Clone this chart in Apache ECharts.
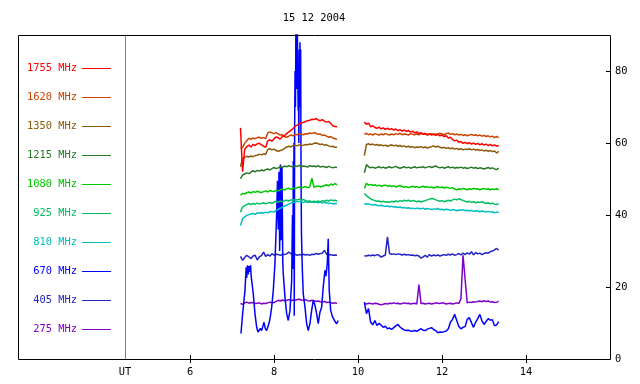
<!DOCTYPE html>
<html><head><meta charset="utf-8">
<script src="https://cdn.jsdelivr.net/npm/echarts@6/dist/echarts.min.js"></script>
<style>html,body{margin:0;padding:0;background:#fff}#c{width:640px;height:384px}</style>
</head><body><div id="c"></div>
<script>
const chartTitle = '15 12 2004';
const names = ['1755 MHz','1620 MHz','1350 MHz','1215 MHz','1080 MHz','925 MHz','810 MHz','670 MHz','405 MHz','275 MHz'];
const colors = ['#ff0000','#cc4400','#8c5a0a','#287828','#00c800','#00bf60','#00bfbf','#0000ff','#2424c4','#7f00c8'];
const xTickValues = [6, 8, 10, 12, 14];
const xStartLabel = 'UT';
const xMin = 4.45, xMax = 16;
const yTickValues = [0, 20, 40, 60, 80];
const yMax = 90;
// evenly sampled segments (UT hours)
const tLeftStart = 7.2, tRightStart = 10.15, tStep = 0.05;

const v1755L = [64.2,52.0,58.2,59.0,59.4,58.9,59.6,59.3,59.8,59.9,59.5,59.1,58.8,60.6,60.9,60.5,61.2,61.7,61.4,61.1,61.8,62.0,62.6,63.1,63.5,64.0,64.6,65.0,65.3,65.6,65.7,66.0,66.2,66.3,66.6,66.5,66.8,66.4,66.2,66.5,66.0,65.8,66.0,65.4,64.8,64.6,64.5];
const v1755R = [65.8,65.2,65.5,64.5,64.8,64.3,64.1,64.4,63.9,64.2,63.8,64.1,63.7,64.0,63.6,63.9,63.4,63.7,63.3,63.6,63.2,63.5,63.0,63.3,62.8,63.1,62.6,62.9,62.5,62.7,62.3,62.6,62.2,62.5,62.1,62.4,62.0,62.2,61.8,62.0,61.4,61.6,61.0,60.6,60.8,60.2,60.4,59.9,60.2,59.8,60.1,59.7,60.0,59.6,59.9,59.5,59.8,59.4,59.7,59.3,59.6,59.2,59.5,59.1,59.3];
const v1620L = [58.5,58.8,59.9,60.6,61.3,61.0,61.4,61.2,61.5,61.6,61.3,61.5,61.2,62.8,63.1,62.8,62.6,62.9,62.5,62.2,62.3,61.8,61.6,61.9,62.2,62.0,62.4,62.3,62.6,62.4,62.3,62.6,62.5,62.8,62.6,62.9,62.7,62.4,62.5,62.1,62.2,61.9,61.6,61.8,61.4,61.2,61.0];
const v1620R = [62.4,62.7,62.3,62.5,62.2,62.6,62.4,62.2,62.5,62.3,62.6,62.4,62.2,62.5,62.3,62.6,62.4,62.7,62.3,62.5,62.4,62.2,62.6,62.4,62.3,62.5,62.3,62.6,62.4,62.5,62.2,62.4,62.6,62.3,62.5,62.4,62.7,62.5,62.3,62.6,62.8,62.4,62.6,62.3,62.5,62.2,62.4,62.1,62.3,62.0,62.2,62.4,62.1,62.3,62.0,62.2,61.9,62.1,61.8,62.0,61.7,61.9,61.5,61.8,61.5];
const v1350L = [53.4,55.7,56.0,56.3,56.1,56.4,56.2,56.5,56.6,56.9,56.7,57.0,56.8,58.2,58.4,58.1,58.3,57.9,57.7,57.9,58.1,58.5,58.9,59.1,58.9,59.3,59.4,59.2,59.5,59.3,59.4,59.6,59.5,59.7,59.6,59.9,60.0,59.8,59.6,59.7,59.4,59.5,59.2,59.0,59.1,58.8,58.8];
const v1350R = [56.5,59.6,59.8,59.5,59.7,59.4,59.6,59.3,59.5,59.2,59.4,59.1,59.3,59.5,59.2,59.4,59.1,59.3,59.0,59.2,58.9,59.1,58.8,59.0,58.7,58.9,58.8,59.0,58.7,58.9,58.6,58.8,59.0,59.2,58.9,59.1,58.8,58.6,58.8,58.5,58.7,58.4,58.6,58.3,58.5,58.2,58.4,58.1,58.3,58.2,58.4,58.1,58.3,58.0,58.2,57.9,58.1,57.8,58.0,57.7,57.9,57.6,57.8,57.2,57.7];
const v1215L = [50.1,51.1,51.4,51.7,51.5,51.9,52.3,52.0,52.4,52.2,52.5,52.3,52.6,52.8,52.5,52.9,53.2,52.9,53.1,53.4,53.2,53.6,53.4,53.7,53.5,53.3,53.6,53.5,53.8,53.4,53.6,53.5,53.3,53.7,53.5,53.6,53.4,53.7,53.3,53.5,53.4,53.2,53.5,53.3,53.1,53.3,53.2];
const v1215R = [51.7,54.0,53.4,53.1,53.3,53.0,53.2,53.4,53.1,53.3,53.0,53.2,53.4,53.1,53.3,53.5,53.2,53.0,53.2,53.4,53.1,53.3,53.0,53.2,53.4,53.1,53.3,53.2,53.4,53.1,53.3,53.5,53.2,53.4,53.6,53.3,53.1,53.3,53.0,53.2,53.4,53.1,53.3,53.0,53.2,53.1,53.3,53.0,53.2,52.9,53.1,53.3,53.0,53.2,52.9,53.1,53.0,52.8,53.0,53.2,52.9,53.1,52.8,52.6,53.0];
const v1080L = [45.5,46.0,45.8,46.2,46.4,46.1,46.5,46.3,46.6,46.4,46.2,46.5,46.7,46.4,46.8,46.6,46.5,46.9,46.7,47.0,47.2,46.9,47.3,47.4,47.1,47.5,47.3,47.6,47.8,47.5,47.7,47.9,47.6,47.8,50.2,47.7,47.9,48.1,47.8,48.0,48.2,48.4,48.1,48.6,48.3,48.7,48.4];
const v1080R = [47.4,48.8,48.3,48.5,48.2,48.4,48.1,48.3,48.0,48.2,48.3,48.0,48.2,47.9,48.1,47.8,48.0,48.2,47.9,47.7,47.9,47.6,47.8,48.0,47.7,47.9,47.6,47.8,48.0,47.7,47.9,47.6,47.8,47.5,47.7,47.9,47.6,47.8,47.5,47.7,47.6,47.4,47.6,47.2,47.0,47.3,47.1,47.4,47.2,47.0,47.3,47.1,47.4,47.2,47.3,47.0,47.2,47.4,47.1,47.3,47.0,47.2,47.1,47.3,47.0];
const v925L = [40.8,42.2,42.6,42.9,43.2,42.9,43.2,43.0,43.3,43.1,43.2,43.4,43.1,43.3,43.5,43.2,43.6,43.8,43.5,43.9,43.7,44.0,44.1,43.9,44.2,44.1,44.3,44.2,44.4,44.1,44.3,44.0,43.8,43.9,43.6,43.8,43.7,43.9,43.6,44.0,43.8,44.1,43.9,44.2,44.0,44.1,43.9];
const v925R = [46.0,45.4,44.9,44.5,44.2,44.0,43.8,43.9,43.6,43.8,43.6,43.7,43.5,43.8,43.6,43.9,43.7,44.0,43.8,44.1,43.9,44.1,43.8,44.0,43.9,43.7,43.9,43.6,43.8,44.0,44.2,44.4,44.6,44.5,44.2,44.0,43.8,44.0,43.7,43.9,44.1,43.9,44.2,44.4,44.2,44.5,44.3,44.0,43.8,43.6,43.8,43.5,43.7,43.4,43.6,43.5,43.7,43.4,43.2,43.4,43.1,43.3,43.0,42.9,43.1];
const v810L = [37.1,39.0,39.5,39.9,40.1,40.3,40.4,40.2,40.6,40.5,40.7,40.5,40.8,40.6,40.9,41.0,40.8,41.3,41.6,41.9,42.2,42.5,42.7,43.0,43.3,43.6,43.5,43.8,43.7,43.6,43.5,43.7,43.5,43.6,43.7,43.5,43.6,43.4,43.6,43.3,43.5,43.4,43.2,43.3,43.1,43.2,43.1];
const v810R = [43.2,43.0,43.1,42.9,42.8,42.9,42.7,42.6,42.7,42.5,42.4,42.5,42.3,42.4,42.2,42.3,42.1,42.2,42.0,42.1,41.9,42.0,41.8,41.9,41.7,41.9,41.8,41.7,41.9,41.6,41.8,41.7,41.5,41.7,41.6,41.8,41.5,41.6,41.4,41.6,41.5,41.3,41.5,41.4,41.2,41.4,41.3,41.5,41.2,41.3,41.1,41.3,41.0,41.2,41.1,40.9,41.1,41.0,40.8,41.0,40.8,40.9,40.6,40.8,40.7];
// 670 MHz burst: irregular samples in the first segment
const t670L = [7.212,7.252,7.307,7.336,7.348,7.367,7.386,7.402,7.426,7.440,7.455,7.467,7.505,7.545,7.586,7.617,7.648,7.676,7.705,7.736,7.760,7.790,7.824,7.855,7.886,7.914,7.943,7.981,8.021,8.062,8.081,8.100,8.117,8.133,8.152,8.169,8.188,8.207,8.219,8.260,8.300,8.338,8.379,8.419,8.438,8.450,8.457,8.467,8.474,8.481,8.490,8.500,8.510,8.519,8.526,8.536,8.545,8.555,8.564,8.574,8.581,8.590,8.600,8.610,8.617,8.626,8.633,8.643,8.652,8.671,8.695,8.736,8.776,8.814,8.855,8.895,8.933,8.974,9.014,9.052,9.093,9.133,9.171,9.212,9.236,9.267,9.290,9.314,9.348,9.395,9.438,9.490,9.529];
const v670L = [7.1,12.7,19.0,25.5,22.5,26.0,23.5,25.8,24.2,26.0,23.0,22.8,18.1,12.6,8.8,7.5,7.2,8.5,7.9,9.2,10.2,8.5,7.9,9.0,10.2,12.0,14.4,19.0,26.5,40.4,49.5,36.0,52.0,30.0,54.0,33.0,53.5,27.0,23.7,17.2,12.6,10.7,13.5,21.8,40.0,25.0,55.0,35.0,60.0,12.0,65.0,80.0,70.0,92.0,78.0,92.0,75.0,92.0,80.0,69.0,75.0,60.0,86.0,72.0,88.0,70.0,86.0,50.0,35.0,25.5,18.1,14.4,9.8,7.9,9.9,13.5,16.3,14.9,12.6,9.8,13.0,14.4,20.0,24.6,23.0,26.5,33.4,19.0,13.5,11.6,10.7,9.8,10.7];
const v670R = [15.8,12.6,14.0,10.2,9.5,10.7,9.3,9.9,9.4,8.8,9.1,8.4,8.6,8.2,8.7,9.2,9.6,8.9,8.4,8.1,7.9,8.0,7.8,7.7,7.9,7.7,8.1,8.4,8.0,7.9,8.3,8.5,8.7,8.2,7.9,7.3,7.5,7.4,7.6,7.8,8.4,10.2,11.0,12.4,10.7,9.0,8.4,8.8,9.0,11.0,11.5,10.1,8.8,10.2,11.2,12.4,10.6,9.6,10.4,11.2,10.8,10.9,9.2,9.5,10.4];
const v405L = [28.5,27.4,28.2,28.8,28.4,27.9,28.6,28.8,27.5,28.4,28.7,29.7,28.5,29.0,28.6,29.2,28.9,29.1,29.0,28.8,29.1,29.0,29.2,29.7,29.3,28.9,29.1,28.8,29.0,28.9,29.1,28.9,29.0,28.8,29.1,29.0,29.3,29.1,29.3,29.4,30.2,29.1,28.9,29.0,28.8,28.9,28.8];
const v405R = [28.7,28.6,28.8,28.7,28.9,28.7,29.0,28.8,28.3,28.6,28.9,33.9,29.3,29.1,29.2,29.0,29.2,29.1,28.9,29.1,28.9,29.0,28.8,28.9,28.7,28.8,28.6,28.0,28.4,28.8,28.3,29.0,28.6,28.9,28.7,28.9,28.6,28.8,29.0,28.8,29.1,28.9,29.2,28.8,29.0,29.3,28.9,29.4,29.0,29.5,29.1,29.8,28.9,29.6,29.2,29.4,29.0,29.3,29.5,29.4,29.8,30.0,30.3,30.7,30.2];
const v275L = [15.4,15.2,15.6,15.8,15.5,15.7,15.6,15.4,15.5,15.6,15.3,15.5,15.4,15.6,15.8,15.6,15.7,16.0,16.3,16.1,16.4,16.2,16.3,16.5,16.2,16.4,16.3,16.5,16.6,16.4,16.3,16.5,16.2,16.1,16.3,16.2,16.0,16.1,15.9,15.8,16.0,15.7,15.8,15.6,15.5,15.6,15.4];
const v275R = [15.4,15.3,15.5,15.4,15.3,15.5,15.4,15.2,15.1,15.2,15.4,15.3,15.5,15.4,15.6,15.4,15.5,15.3,15.4,15.6,15.4,15.5,15.3,15.4,15.5,15.3,20.7,15.4,15.5,15.3,15.4,15.5,15.3,15.4,15.6,15.5,15.4,15.6,15.5,15.3,15.4,15.5,15.3,15.4,15.6,15.4,16.7,28.8,22.0,15.6,15.8,15.7,15.9,15.8,16.0,16.1,15.9,16.2,16.0,16.1,15.8,15.9,15.7,15.8,16.0];

const gapT = 9.85;
function grid(t0, vals) { return vals.map((v, i) => [+(t0 + i * tStep).toFixed(3), v]); }
function pairs(ts, vals) { return ts.map((t, i) => [t, vals[i]]); }
function join(a, b) { return a.concat([[gapT, '-']], b); }

const seriesData = [
  join(grid(tLeftStart, v1755L), grid(tRightStart, v1755R)),
  join(grid(tLeftStart, v1620L), grid(tRightStart, v1620R)),
  join(grid(tLeftStart, v1350L), grid(tRightStart, v1350R)),
  join(grid(tLeftStart, v1215L), grid(tRightStart, v1215R)),
  join(grid(tLeftStart, v1080L), grid(tRightStart, v1080R)),
  join(grid(tLeftStart, v925L), grid(tRightStart, v925R)),
  join(grid(tLeftStart, v810L), grid(tRightStart, v810R)),
  join(pairs(t670L, v670L), grid(tRightStart, v670R)),
  join(grid(tLeftStart, v405L), grid(tRightStart, v405R)),
  join(grid(tLeftStart, v275L), grid(tRightStart, v275R))
];

const font = 'DejaVu Sans Mono';
const chart = echarts.init(document.getElementById('c'), null, {renderer: 'canvas'});
const xLabelVals = [xMin].concat(xTickValues);
chart.setOption({
  animation: false,
  backgroundColor: '#fff',
  title: {
    text: chartTitle, left: 314, top: 13, textAlign: 'center', padding: 0,
    textStyle: {fontFamily: font, fontSize: 10.4, fontWeight: 'normal', color: '#000'}
  },
  legend: {
    orient: 'vertical', left: 27, top: 61.5, padding: 0, itemGap: 15,
    align: 'right', icon: 'rect', itemWidth: 29, itemHeight: 1,
    selectedMode: false,
    formatter: n => n.padStart(8, ' '),
    textStyle: {fontFamily: font, fontSize: 10.4, lineHeight: 14},
    data: names.map((n, i) => ({name: n, textStyle: {color: colors[i]}}))
  },
  grid: {left: 125, right: 30, top: 35, bottom: 25, containLabel: false},
  xAxis: [{
    type: 'value', min: xMin, max: xMax, position: 'bottom',
    axisLine: {show: false}, splitLine: {show: false},
    axisTick: {inside: true, length: 4, lineStyle: {color: '#000'}, customValues: xTickValues},
    axisLabel: {customValues: xLabelVals, margin: 8, color: '#000', fontFamily: font, fontSize: 10.4,
      formatter: v => (Math.abs(v - xMin) < 1e-6 ? xStartLabel : String(v))}
  }, {
    type: 'value', min: xMin, max: xMax, position: 'top',
    axisLine: {show: false}, splitLine: {show: false}, axisLabel: {show: false},
    axisTick: {inside: true, length: 4, lineStyle: {color: '#000'}, customValues: xTickValues}
  }],
  yAxis: [{
    type: 'value', min: 0, max: yMax, position: 'right',
    axisLine: {show: false}, splitLine: {show: false},
    axisTick: {show: true, inside: true, length: 4, lineStyle: {color: '#000'}, customValues: yTickValues},
    axisLabel: {customValues: yTickValues, margin: 5, color: '#000', fontFamily: font, fontSize: 10.4}
  }, {
    type: 'value', min: 0, max: yMax, position: 'left',
    axisLine: {show: true, lineStyle: {color: '#808080', width: 1}},
    axisTick: {show: false}, axisLabel: {show: false}, splitLine: {show: false}
  }],
  graphic: [{
    type: 'rect', silent: true, z: 100,
    shape: {x: 18.5, y: 35.5, width: 592, height: 324},
    style: {fill: 'none', stroke: '#000', lineWidth: 1}
  }],
  series: names.map((n, i) => ({
    name: n, type: 'line', color: colors[i], data: seriesData[i],
    showSymbol: false, symbol: 'none', connectNulls: false, clip: true,
    lineStyle: {width: 1.5, color: colors[i]}, emphasis: {disabled: true}, silent: true,
    xAxisIndex: 0, yAxisIndex: 0, z: 10 - i
  }))
});
</script></body></html>
